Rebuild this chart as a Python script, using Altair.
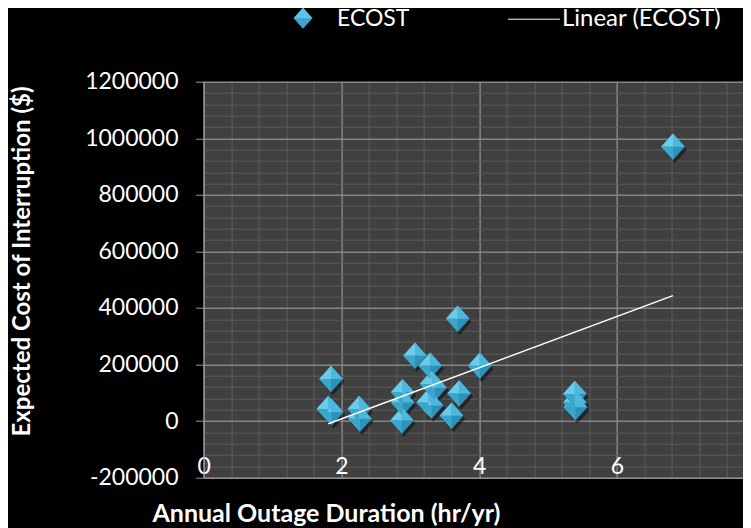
import altair as alt
import pandas as pd

# ---- data ----
hours = [1.85, 1.81, 1.86, 2.26, 2.27, 2.89, 2.89, 2.88, 3.07, 3.29, 3.31, 3.36,
         3.26, 3.31, 3.71, 3.60, 4.01, 3.69, 5.39, 5.39, 5.40, 6.815]
ecost = [149000, 43000, 31000, 43000, 8000, 102000, 66000, 2000, 231000, 196000,
         131000, 118000, 66000, 55000, 98000, 19000, 196000, 362000, 96000, 66000,
         49000, 970000]

x_major = [0, 2, 4, 6, 8]
y_major = [-200000, 0, 200000, 400000, 600000, 800000, 1000000, 1200000]
x_minor = [0, 0.4, 0.8, 1.2, 1.6, 2, 2.4, 2.8, 3.2, 3.6, 4, 4.4, 4.8, 5.2, 5.6,
           6, 6.4, 6.8, 7.2, 7.6, 8]
y_minor = [-200000, -160000, -120000, -80000, -40000, 0, 40000, 80000, 120000,
           160000, 200000, 240000, 280000, 320000, 360000, 400000, 440000, 480000,
           520000, 560000, 600000, 640000, 680000, 720000, 760000, 800000, 840000,
           880000, 920000, 960000, 1000000, 1040000, 1080000, 1120000, 1160000, 1200000]

series_label = ["ECOST"]
trend_label = ["Linear (ECOST)"]
x_title = "Annual Outage Duration (hr/yr)"
y_title = "Expected Cost of Interruption ($)"

df = pd.DataFrame({"hours": hours, "ecost": ecost})

FONT = "Lato"
MAJOR = "#9c9c9c"
MINOR = "#5b5b5b"

DIAMOND = "M-1,0L0,-1.12L1,0L0,1.12Z"
FACET_TL = "M-1,0L0,-1.12L0,0Z"
FACET_TR = "M0,-1.12L1,0L0,0Z"
FACET_BL = "M-1,0L0,0L0,1.12Z"
SIZE = 560

xs = alt.Scale(domain=[0, 8], nice=False, zero=False)
ys = alt.Scale(domain=[-200000, 1200000], nice=False, zero=False)

base = alt.Chart(df)

minor = base.mark_point(opacity=0).encode(
    x=alt.X("hours:Q", scale=xs, axis=alt.Axis(
        values=x_minor, grid=True, gridColor=MINOR, gridWidth=1, labels=False,
        ticks=False, domain=False, title=None, orient="bottom")),
    y=alt.Y("ecost:Q", scale=ys, axis=alt.Axis(
        values=y_minor, grid=True, gridColor=MINOR, gridWidth=1, labels=False,
        ticks=False, domain=False, title=None, orient="left")),
)

shadow = base.mark_point(shape=DIAMOND, filled=True, size=SIZE, color="black",
                         opacity=0.45, xOffset=2, yOffset=3).encode(
    x=alt.X("hours:Q", scale=xs, axis=None),
    y=alt.Y("ecost:Q", scale=ys, axis=None),
)

main = base.mark_point(shape=DIAMOND, filled=True, size=SIZE, color="#2e92b8",
                       opacity=1).encode(
    x=alt.X("hours:Q", scale=xs, axis=alt.Axis(
        values=x_major, grid=True, gridColor=MAJOR, gridWidth=1,
        domain=True, domainColor=MAJOR, ticks=False,
        labelFont=FONT, labelFontSize=23, labelColor="white",
        labelPadding=-4, labelBaseline="alphabetic", labelFlush=False,
        title=x_title, titleFont=FONT, titleFontSize=25, titleFontWeight="bold",
        titleColor="white", titleX=-51.6, titleY=35.4, titleAlign="left",
        titleBaseline="middle", orient="bottom")),
    y=alt.Y("ecost:Q", scale=ys, axis=alt.Axis(
        values=y_major, grid=True, gridColor=MAJOR, gridWidth=1,
        labelExpr="datum.value < 0 ? '-' + format(-datum.value, 'd') : format(datum.value, 'd')",
        domain=True, domainColor=MAJOR, ticks=True, tickColor=MAJOR, tickSize=8,
        labelFont=FONT, labelFontSize=23, labelColor="white", labelPadding=17.6,
        labelFlush=False,
        title=y_title, titleFont=FONT, titleFontSize=24, titleFontWeight="bold",
        titleColor="white", titleX=-181.6, titleY=179.3, titleAngle=270,
        titleAlign="center", titleBaseline="middle", orient="left")),
)

def facet(path, color):
    return base.mark_point(shape=path, filled=True, size=SIZE, color=color,
                           opacity=1).encode(
        x=alt.X("hours:Q", scale=xs, axis=None),
        y=alt.Y("ecost:Q", scale=ys, axis=None),
    )

f_tl = facet(FACET_TL, "#6ccbe9")
f_tr = facet(FACET_TR, "#4db8dd")
f_bl = facet(FACET_BL, "#3aa6cc")

trend = base.transform_regression("hours", "ecost").mark_line(
    color="white", strokeWidth=1.5).encode(
    x=alt.X("hours:Q", scale=xs, axis=None),
    y=alt.Y("ecost:Q", scale=ys, axis=None),
)

leg1 = pd.DataFrame({"label": series_label})
leg2 = pd.DataFrame({"label": trend_label})

leg_sym = alt.Chart(leg1).mark_point(shape=DIAMOND, filled=True, size=350,
                                     color="#3aa6cc", opacity=1).encode(
    x=alt.value(99.4), y=alt.value(-63.5))
leg_sym_hi = alt.Chart(leg1).mark_point(shape="M-1,0L0,-1.12L1,0Z", filled=True,
                                        size=350, color="#5cc3e6", opacity=1).encode(
    x=alt.value(99.4), y=alt.value(-63.5))
leg_txt1 = alt.Chart(leg1).mark_text(align="left", baseline="middle", font=FONT,
                                     fontSize=23, color="white").encode(
    x=alt.value(133.4), y=alt.value(-62.5), text="label:N")
leg_line = alt.Chart(leg2).mark_rule(color="white", strokeWidth=1).encode(
    x=alt.value(304.4), x2=alt.value(356.4), y=alt.value(-62.5))
leg_txt2 = alt.Chart(leg2).mark_text(align="left", baseline="middle", font=FONT,
                                     fontSize=24, color="white").encode(
    x=alt.value(358.4), y=alt.value(-62.5), text="label:N")

chart = alt.layer(
    minor, shadow, main, f_tl, f_tr, f_bl, trend,
    leg_sym, leg_sym_hi, leg_txt1, leg_line, leg_txt2
).resolve_axis(x="independent", y="independent").properties(
    width=551, height=396, background="black",
    padding={"left": 195.6, "top": 73.7, "right": -11.6, "bottom": 52},
    autosize=alt.AutoSizeParams(type="none"),
).configure_view(fill="#404040", stroke=None)

chart.save("out.html", embed_options={"renderer": "svg", "actions": False})
